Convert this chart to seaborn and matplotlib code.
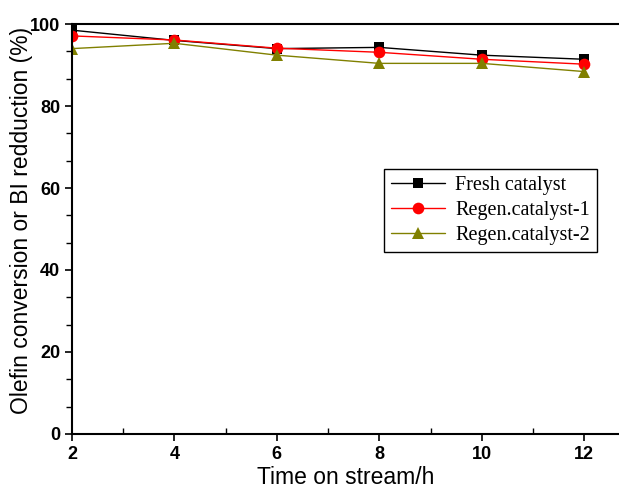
import pandas as pd
import matplotlib
matplotlib.use("Agg")
import matplotlib.pyplot as plt
import seaborn as sns
from matplotlib.ticker import AutoMinorLocator

# Dados
time_h = [2, 4, 6, 8, 10, 12]
fresh = [98.5, 96, 94, 94.3, 92.4, 91.4]
regen1 = [97.1, 96.1, 94.1, 93.1, 91.4, 90.2]
regen2 = [94, 95.3, 92.4, 90.4, 90.4, 88.4]
series_names = ["Fresh catalyst", "Regen.catalyst-1", "Regen.catalyst-2"]

df = pd.DataFrame({
    "time": time_h * 3,
    "value": fresh + regen1 + regen2,
    "series": [series_names[0]] * 6 + [series_names[1]] * 6 + [series_names[2]] * 6,
})

sns.set_style("ticks")
plt.rcParams["font.family"] = ["Liberation Sans", "DejaVu Sans"]
plt.rcParams["text.color"] = "black"
plt.rcParams["axes.labelcolor"] = "black"
plt.rcParams["xtick.color"] = "black"
plt.rcParams["ytick.color"] = "black"

fig = plt.figure(figsize=(6.19, 4.9), dpi=100)
ax = fig.add_axes([0.1163, 0.1143, 0.8837, 0.8367])

palette = {series_names[0]: "black", series_names[1]: "red", series_names[2]: "#808000"}
markers = {series_names[0]: "s", series_names[1]: "o", series_names[2]: "^"}
sizes = {series_names[0]: 7.3, series_names[1]: 8.4, series_names[2]: 9}

for name in series_names:
    sns.lineplot(data=df[df["series"] == name], x="time", y="value", color=palette[name],
                 marker=markers[name], markersize=sizes[name], markeredgewidth=0,
                 linewidth=1, label=name, ax=ax)

ax.set_xlim(2, 12.68)
ax.set_ylim(0, 100)
ax.set_xticks([2, 4, 6, 8, 10, 12])
ax.set_yticks([0, 20, 40, 60, 80, 100])
ax.xaxis.set_minor_locator(AutoMinorLocator(2))
ax.yaxis.set_minor_locator(AutoMinorLocator(3))
ax.tick_params(axis="both", which="major", direction="out", length=5, width=1.2, labelsize=13)
ax.tick_params(axis="x", which="minor", direction="in", length=4, width=1)
ax.tick_params(axis="y", which="minor", direction="out", length=4, width=1)
for lab in ax.get_xticklabels() + ax.get_yticklabels():
    lab.set_fontweight("bold")

for side in ["left", "bottom", "top"]:
    ax.spines[side].set_linewidth(1.5)
    ax.spines[side].set_color("black")
ax.spines["right"].set_visible(False)

ax.set_xlabel("Time on stream/h", fontsize=16.5, labelpad=2)
ax.set_ylabel("Olefin conversion or BI redduction (%)", fontsize=16.5)
ax.yaxis.set_label_coords(-0.071, 0.52)

leg = ax.legend(loc="upper left", bbox_to_anchor=(0.57, 0.646), borderaxespad=0, frameon=True,
                fancybox=False, edgecolor="black", framealpha=1, handlelength=2.7,
                prop={"family": "Liberation Serif", "size": 14.5}, borderpad=0.35, labelspacing=0.28,
                handletextpad=0.5)
leg.get_frame().set_linewidth(1)

fig.savefig("out.png", dpi=100)
